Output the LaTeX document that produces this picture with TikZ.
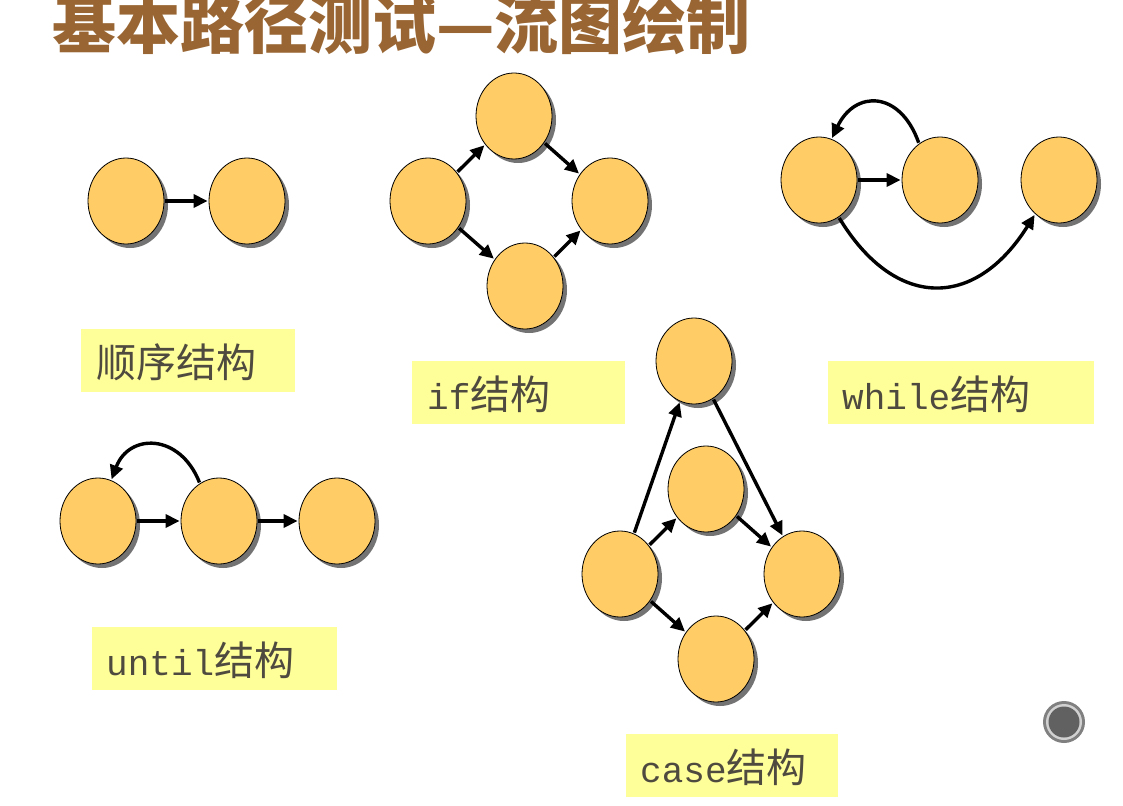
\documentclass[tikz,border=0pt]{standalone}
\usepackage{fontspec}
\newfontfamily\cjk{Noto Sans CJK SC}
\newfontfamily\lat{Liberation Mono}
\usetikzlibrary{shapes.geometric,shadows,arrows.meta}
\definecolor{nodefill}{HTML}{FFCC66}
\definecolor{labelfill}{HTML}{FFFF99}
\definecolor{labeltext}{HTML}{4F4A3F}
\definecolor{titlecol}{HTML}{996633}
\tikzset{
  nd/.style={ellipse, draw=black, line width=0.8pt, fill=nodefill,
    minimum width=76pt, minimum height=86pt, inner sep=0pt,
    drop shadow={shadow xshift=4pt, shadow yshift=-4pt, fill=black!55, opacity=1}},
  ar/.style={line width=3.4pt, -{Triangle[length=14pt,width=13pt]},
    shorten >=1pt, shorten <=1pt},
  lbox/.style={fill=labelfill, draw=none},
  ltext/.style={anchor=base west, inner sep=0pt, text=labeltext},
}
\newcommand{\lab}[2]{{\lat\fontsize{36}{36}\selectfont #1}{\cjk\fontsize{40}{40}\selectfont #2}}
\begin{document}
\begin{tikzpicture}[x=1pt,y=-1pt]
\useasboundingbox (0,0) rectangle (1123,805);
\fill[white] (0,0) rectangle (1123,805);
% title
\node[anchor=base west, inner sep=0pt, text=titlecol] (title) at (52,49)
  {\cjk\bfseries\fontsize{64}{64}\selectfont 基本路径测试—流图绘制};

% sequence
\node[nd] (A1) at (126,201) {};
\node[nd] (A2) at (247,201) {};
\draw[ar] (A1) -- (A2);

% if
\node[nd] (I1) at (428,201) {};
\node[nd] (I2) at (514,116) {};
\node[nd] (I3) at (610,201) {};
\node[nd] (I4) at (525,286) {};
\draw[ar] (I1) -- (I2);
\draw[ar] (I2) -- (I3);
\draw[ar] (I1) -- (I4);
\draw[ar] (I4) -- (I3);

% while
\node[nd] (W1) at (819,180) {};
\node[nd] (W2) at (940,180) {};
\node[nd] (W3) at (1059,180) {};
\draw[ar] (W1) -- (W2);
\draw[ar] (W2.120) .. controls (900,90) and (855,90) .. (W1.73);
\draw[ar] (W1.-62) .. controls (895,310) and (975,310) .. (W3.-125);

% until
\node[nd] (U1) at (98,521) {};
\node[nd] (U2) at (219,521) {};
\node[nd] (U3) at (337,521) {};
\draw[ar] (U1) -- (U2);
\draw[ar] (U2) -- (U3);
\draw[ar] (U2.117) .. controls (180,433) and (129,433) .. (U1.72);

% case
\node[nd] (C1) at (694,361) {};
\node[nd] (C2) at (706,489) {};
\node[nd] (C3) at (620,574) {};
\node[nd] (C4) at (802,574) {};
\node[nd] (C5) at (716,659) {};
\draw[ar] (C3) -- (C1);
\draw[ar] (C1) -- (C4);
\draw[ar] (C3) -- (C2);
\draw[ar] (C2) -- (C4);
\draw[ar] (C3) -- (C5);
\draw[ar] (C5) -- (C4);

% labels
\fill[lbox] (81,329) rectangle (295,392);
\node[ltext] (L1) at (96,377) {\lab{}{顺序结构}};
\fill[lbox] (412,361) rectangle (625,424);
\node[ltext] (L2) at (427,409) {\lab{if}{结构}};
\fill[lbox] (828,361) rectangle (1094,424);
\node[ltext] (L3) at (842,409) {\lab{while}{结构}};
\fill[lbox] (92,627) rectangle (337,690);
\node[ltext] (L4) at (106,675) {\lab{until}{结构}};
\fill[lbox] (626,734) rectangle (838,797);
\node[ltext] (L5) at (640,782) {\lab{case}{结构}};

% button
\fill[black!50] (1064,722) circle (21);
\fill[black!18] (1064,722) circle (18);
\fill[black!62] (1064,722) circle (15.5);
\end{tikzpicture}
\end{document}
